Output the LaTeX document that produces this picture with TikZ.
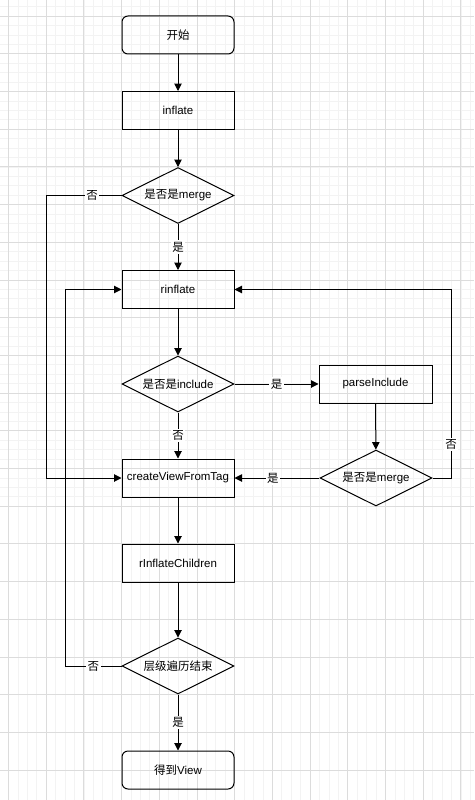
\documentclass[tikz,border=0pt]{standalone}
\usepackage{fontspec}
\setmainfont{Liberation Sans}
\newfontfamily\cjk{Noto Sans CJK SC}
\usetikzlibrary{shapes.geometric}
\usetikzlibrary{arrows.meta}
\definecolor{gridmaj}{RGB}{220,220,220}
\definecolor{gridmin}{RGB}{243,243,243}

\begin{document}
\begin{tikzpicture}[x=1pt,y=-1pt,font=\fontsize{11.5}{13}\selectfont,
  box/.style={draw,line width=1pt,minimum width=112pt,minimum height=38pt,inner sep=0pt},
  term/.style={box,rounded corners=6pt},
  cond/.style={draw,line width=1pt,diamond,aspect=2,minimum width=112pt,minimum height=56pt,inner sep=0pt},
  flow/.style={line width=1pt,-{Triangle[length=7.5pt,width=7.5pt]}},
  lbl/.style={fill=white,inner sep=1.5pt}]
  \def\gx{8.4};
  \def\gy{16};
  \def\gs{37.7};
  \useasboundingbox (0,0) rectangle (474,800);
  \fill[white] (0,0) rectangle (474,800);
  %grid
  \begin{scope}
    \clip (0,0) rectangle (474,800);
    \foreach \i in {0,...,56} {
      \draw[gridmin,line width=0.6pt] (\gx-\gs+\i*\gs/4,0)--++(0,800);
      \draw[gridmin,line width=0.6pt] (0,\gy-\gs+\i*\gs/4)--++(474,0);
    }
    \foreach \i in {0,...,22} {
      \draw[gridmaj,line width=0.8pt] (\gx+\i*\gs,0)--++(0,800);
      \draw[gridmaj,line width=0.8pt] (0,\gy+\i*\gs)--++(474,0);
    }
  \end{scope}
  %nodes
  \node[term] (start) at (178,35) {\cjk 开始};
  \node[box] (inflate) at (178,110.5) {inflate};
  \node[cond] (merge1) at (178,195.5) {{\cjk 是否是}merge};
  \node[box] (rinflate) at (178,289.5) {rinflate};
  \node[cond] (include) at (178,384) {{\cjk 是否是}include};
  \node[box,minimum width=113pt] (parse) at (375.5,384) {parseInclude};
  \node[cond] (merge2) at (376,478) {{\cjk 是否是}merge};
  \node[box] (create) at (178,478) {createViewFromTag};
  \node[box] (children) at (178,563) {rInflateChildren};
  \node[cond] (done) at (178,666) {\cjk 层级遍历结束};
  \node[term] (view) at (178,770) {{\cjk 得到}View};
  \coordinate (leftA) at (46,195.5);
  \coordinate (leftB) at (65,666);
  \coordinate (rightA) at (451,478);
  %edges
  \draw[flow] (start)--(inflate);
  \draw[flow] (inflate)--(merge1);
  \draw[flow] (merge1)--node[lbl]{\cjk 是}(rinflate);
  \draw[flow] (merge1.west)--node[lbl,pos=0.39]{\cjk 否}(leftA)|-(create.west);
  \draw[flow] (rinflate)--(include);
  \draw[flow] (include)--node[lbl]{\cjk 是}(parse);
  \draw[flow] (include)--node[lbl]{\cjk 否}(create);
  \draw[flow] (parse)--(merge2);
  \draw[flow] (merge2)--node[lbl,pos=0.55]{\cjk 是}(create);
  \draw[flow] (merge2.east)--(rightA)|-node[lbl,pos=0.09]{\cjk 否}(rinflate.east);
  \draw[flow] (create)--(children);
  \draw[flow] (children)--(done);
  \draw[flow] (done.west)--node[lbl]{\cjk 否}(leftB)|-(rinflate.west);
  \draw[flow] (done)--node[lbl]{\cjk 是}(view);
\end{tikzpicture}
\end{document}
